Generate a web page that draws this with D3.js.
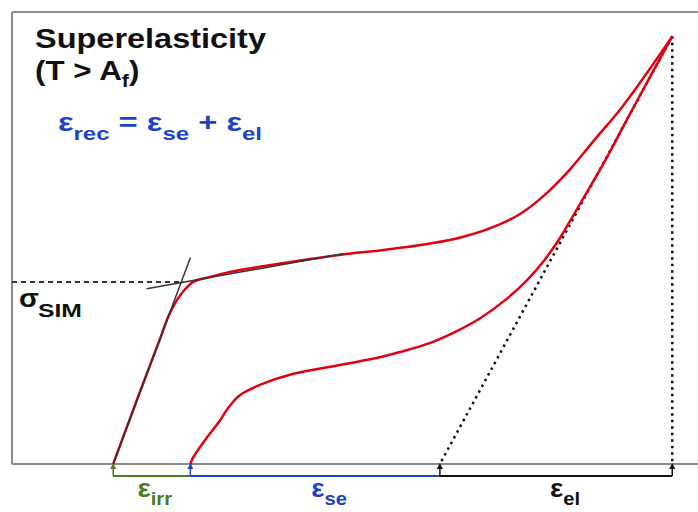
<!DOCTYPE html>
<html lang="en">
<head>
  <meta charset="utf-8">
  <title>Superelasticity</title>
  <style>
    body { margin: 0; background: #fff; font-family: "Liberation Sans", Arial, sans-serif; }
    text { font-weight: bold; }
  </style>
</head>
<body>
  <svg id="chart"></svg>

  <script src="https://cdn.jsdelivr.net/npm/d3@7/dist/d3.min.js"></script>
  <script>
    // stress-strain loop (strain in %, stress in MPa)
    const loadStrain = [1.18, 1.49, 1.73, 1.82, 1.91, 2.01, 2.11, 2.31, 2.54, 2.89, 3.36, 3.86, 4.29, 4.91, 5.23, 5.57, 5.92, 6.21, 6.51, 6.80, 7.09, 7.38, 7.70];
    const loadStress = [0, 127, 223, 260, 287, 308, 322, 331, 340, 349, 360, 371, 378, 391, 401, 417, 442, 476, 522, 575, 627, 687, 757];

    const unloadStrain = [7.70, 7.45, 7.17, 6.92, 6.72, 6.55, 6.39, 6.22, 6.01, 5.75, 5.46, 5.17, 4.87, 4.52, 4.29, 3.71, 3.24, 2.89, 2.66, 2.52, 2.43, 2.25, 2.11, 2.08];
    const unloadStress = [757, 688, 609, 538, 485, 441, 400, 363, 326, 290, 258, 234, 214, 198, 189, 172, 158, 140, 122, 99, 78, 42, 11, 0];

    // tangents used to find sigma_SIM
    const elasticTanStrain = [1.18, 2.08];
    const elasticTanStress = [0, 365];
    const plateauTanStrain = [1.57, 3.86];
    const plateauTanStress = [310, 372];
    const sigmaSIM = 322;

    // strain partition along the axis
    const bracketStrain = [1.18, 2.08, 4.99, 7.70];
    const bracketLabels = [["ε", "irr"], ["ε", "se"], ["ε", "el"]];
    const bracketColors = ["#4b7d1f", "#1d44c4", "#111"];

    const width = 698;
    const height = 512;

    const x = d3.scaleLinear().domain([0, 8]).range([12, 698]);
    const y = d3.scaleLinear().domain([0, 800]).range([464, 12]);

    const svg = d3.select("#chart")
      .attr("width", width)
      .attr("height", height);

    svg.append("defs").append("marker")
      .attr("id", "tip")
      .attr("viewBox", "0 0 6 6")
      .attr("refX", 3).attr("refY", 3)
      .attr("markerWidth", 4).attr("markerHeight", 4)
      .attr("orient", "auto")
      .append("path")
      .attr("d", "M0,0L6,3L0,6Z")
      .attr("fill", "context-stroke");

    // frame: left, top and the strain axis
    const frame = svg.append("g").attr("stroke", "#8a8a8a").attr("stroke-width", 2);
    frame.append("line").attr("x1", x(0)).attr("x2", x(0)).attr("y1", y(800)).attr("y2", y(0));
    frame.append("line").attr("x1", x(0)).attr("x2", x(8)).attr("y1", y(800)).attr("y2", y(800));
    frame.append("line").attr("x1", x(0)).attr("x2", x(8)).attr("y1", y(0)).attr("y2", y(0));

    const zip = (a, b) => a.map((v, i) => [v, b[i]]);
    const loadLine = d3.line()
      .x(d => x(d[0]))
      .y(d => y(d[1]))
      .curve(d3.curveMonotoneX);
    const unloadLine = d3.line()
      .x(d => x(d[0]))
      .y(d => y(d[1]))
      .curve(d3.curveCatmullRom.alpha(0.5));

    // dashed sigma_SIM level
    svg.append("line")
      .attr("x1", x(0)).attr("x2", x(2.0))
      .attr("y1", y(sigmaSIM)).attr("y2", y(sigmaSIM))
      .attr("stroke", "#333").attr("stroke-width", 2)
      .attr("stroke-dasharray", "5,4");

    // dotted elastic unloading and the peak strain
    const peak = [loadStrain[loadStrain.length - 1], loadStress[loadStress.length - 1]];
    const dotted = svg.append("g")
      .attr("stroke", "#111").attr("stroke-width", 2.5)
      .attr("stroke-dasharray", "2.5,4");
    dotted.append("line")
      .attr("x1", x(peak[0])).attr("y1", y(peak[1]))
      .attr("x2", x(bracketStrain[2])).attr("y2", y(0));
    dotted.append("line")
      .attr("x1", x(peak[0])).attr("y1", y(peak[1]))
      .attr("x2", x(peak[0])).attr("y2", y(0));

    // red loop
    svg.append("path")
      .attr("d", loadLine(zip(loadStrain, loadStress)))
      .attr("fill", "none").attr("stroke", "#e3000f").attr("stroke-width", 2.5);
    svg.append("path")
      .attr("d", unloadLine(zip(unloadStrain, unloadStress)))
      .attr("fill", "none").attr("stroke", "#e3000f").attr("stroke-width", 2.5);

    // tangents
    const tan = svg.append("g").attr("stroke", "#333").attr("stroke-width", 1.5);
    tan.append("path").attr("d", d3.line()(zip(elasticTanStrain, elasticTanStress).map(d => [x(d[0]), y(d[1])])));
    tan.append("path").attr("d", d3.line()(zip(plateauTanStrain, plateauTanStress).map(d => [x(d[0]), y(d[1])])));

    // brackets under the axis
    const by = y(0) + 12;
    const labelShift = [3, 14, 9];
    bracketLabels.forEach((lab, i) => {
      const x0 = x(bracketStrain[i]);
      const x1 = x(bracketStrain[i + 1]);
      svg.append("line")
        .attr("x1", x0).attr("x2", x1).attr("y1", by).attr("y2", by)
        .attr("stroke", bracketColors[i]).attr("stroke-width", 2);

      const t = svg.append("text")
        .attr("transform", `translate(${(x0 + x1) / 2 + labelShift[i]},${by + 21}) scale(1.12,1)`)
        .attr("text-anchor", "middle")
        .attr("fill", bracketColors[i]);
      t.append("tspan").attr("font-size", 25).text(lab[0]);
      t.append("tspan").attr("font-size", 18).attr("dy", 8).text(lab[1]);
    });
    bracketStrain.forEach((s, i) => {
      svg.append("line")
        .attr("x1", x(s)).attr("x2", x(s))
        .attr("y1", by).attr("y2", y(0) + 2)
        .attr("stroke", bracketColors[Math.min(i, 2)])
        .attr("stroke-width", 1.5)
        .attr("marker-end", "url(#tip)");
    });

    // titles
    svg.append("text")
      .attr("transform", "translate(35,48) scale(1.16,1)")
      .attr("font-size", 28).attr("fill", "#111")
      .text("Superelasticity");
    const t2 = svg.append("text")
      .attr("transform", "translate(35,80) scale(1.12,1)")
      .attr("font-size", 28).attr("fill", "#111");
    t2.append("tspan").text("(T > A");
    t2.append("tspan").attr("font-size", 19).attr("dy", 7).text("f");
    t2.append("tspan").attr("dy", -7).text(")");

    // recovered strain equation
    const eq = svg.append("text")
      .attr("x", 58).attr("y", 131)
      .attr("fill", "#1d44c4")
      .attr("textLength", 204).attr("lengthAdjust", "spacingAndGlyphs");
    eq.append("tspan").attr("font-size", 26).text("ε");
    eq.append("tspan").attr("font-size", 19).attr("dy", 9).text("rec");
    eq.append("tspan").attr("font-size", 26).attr("dy", -9).text(" = ε");
    eq.append("tspan").attr("font-size", 19).attr("dy", 9).text("se");
    eq.append("tspan").attr("font-size", 26).attr("dy", -9).text(" + ε");
    eq.append("tspan").attr("font-size", 19).attr("dy", 9).text("el");

    const sy = y(sigmaSIM);
    svg.append("text")
      .attr("transform", `translate(19,${sy + 25}) scale(1.12,1)`)
      .attr("font-size", 26).attr("fill", "#111")
      .text("σ");
    svg.append("text")
      .attr("x", 38).attr("y", sy + 35)
      .attr("font-size", 18).attr("fill", "#111")
      .attr("textLength", 44).attr("lengthAdjust", "spacingAndGlyphs")
      .text("SIM");
  </script>
</body>
</html>
